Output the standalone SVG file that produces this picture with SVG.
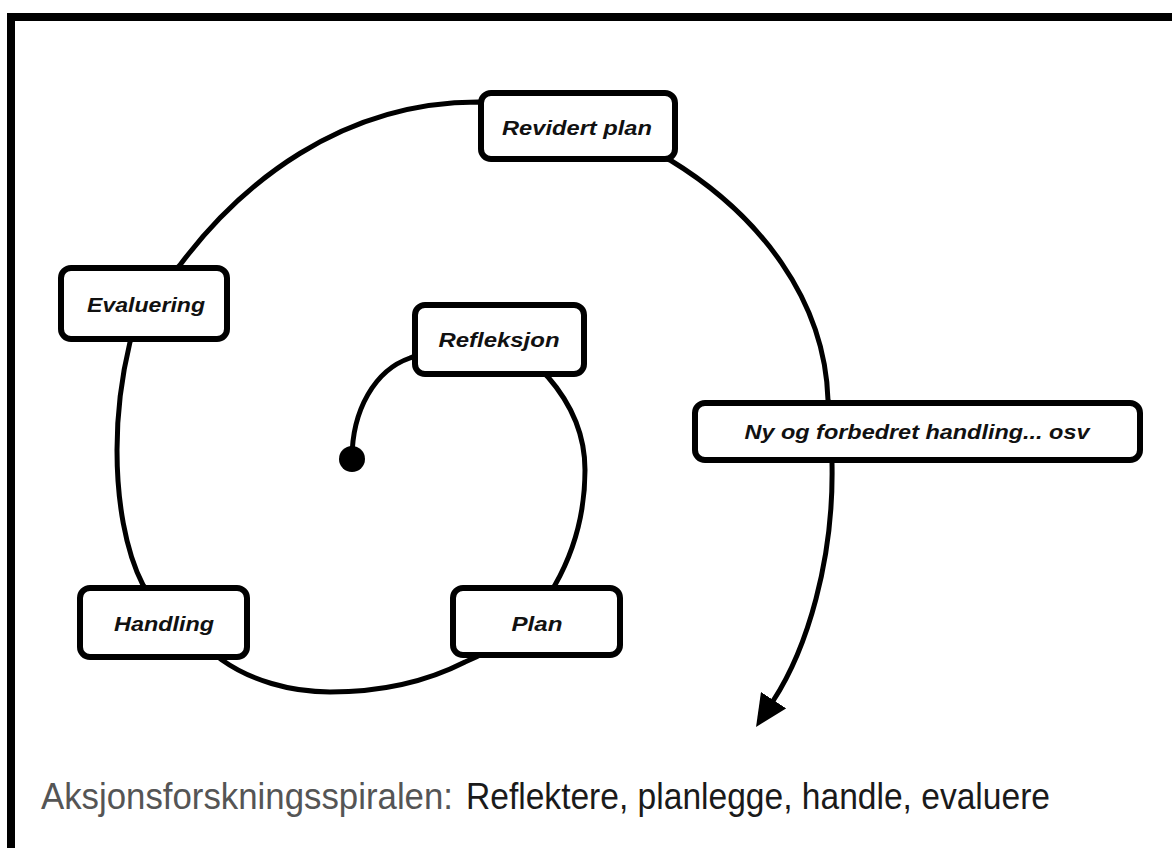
<svg xmlns="http://www.w3.org/2000/svg" width="1172" height="848" viewBox="0 0 1172 848">
  <style>
    .frame { fill: none; stroke: #000; stroke-width: 8; }
    .spiral { fill: none; stroke: #000; stroke-width: 5; stroke-linecap: round; stroke-linejoin: round; }
    .box { fill: #fff; stroke: #000; stroke-width: 6; }
    .lbl { font-family: "Liberation Sans", Arial, sans-serif; font-weight: bold; font-style: italic; font-size: 21px; fill: #111; text-anchor: middle; }
    .cap { font-family: "Liberation Sans", Arial, sans-serif; font-size: 37px; }
  </style>
  <defs>
    <marker id="arrow" markerUnits="userSpaceOnUse" markerWidth="32" markerHeight="30" viewBox="0 0 32 30" refX="1" refY="15" orient="auto">
      <path d="M0,0 L32,15 L0,30 z" fill="#000"/>
    </marker>
  </defs>
  <rect width="1172" height="848" fill="#fff"/>
  <path class="frame" d="M11,848 L11,17 L1172,17"/>

  <g id="connectors">
    <path class="spiral" marker-end="url(#arrow)" d="M352,459 C352,410 375,370 410,358 C450,340 520,345 548,377 C568,400 585,430 585,470 C585,515 572,555 555,585 C535,620 500,648 465,662 C420,685 370,692 330,692 C290,692 250,680 222,660 C190,635 160,610 143,585 C125,550 117,500 117,450 C117,410 122,375 130,342 C145,305 160,285 180,265 C240,185 340,102 478,102 L670,160 C760,215 825,300 828,400 L832,463 C834,560 807,649 773,701"/>
    <circle cx="352" cy="459" r="13" fill="#000"/>
  </g>

  <g id="node-revidert-plan">
    <rect class="box" x="481" y="93" width="194" height="66" rx="10"/>
    <text class="lbl" x="577" y="135" textLength="150" lengthAdjust="spacingAndGlyphs">Revidert plan</text>
  </g>
  <g id="node-evaluering">
    <rect class="box" x="61" y="268" width="166" height="71" rx="10"/>
    <text class="lbl" x="146" y="312" textLength="118" lengthAdjust="spacingAndGlyphs">Evaluering</text>
  </g>
  <g id="node-refleksjon">
    <rect class="box" x="415" y="305" width="169" height="69" rx="10"/>
    <text class="lbl" x="499" y="347" textLength="121" lengthAdjust="spacingAndGlyphs">Refleksjon</text>
  </g>
  <g id="node-ny-handling">
    <rect class="box" x="695" y="403" width="445" height="57" rx="10"/>
    <text class="lbl" x="917" y="439" textLength="345" lengthAdjust="spacingAndGlyphs">Ny og forbedret handling... osv</text>
  </g>
  <g id="node-handling">
    <rect class="box" x="80" y="588" width="167" height="69" rx="10"/>
    <text class="lbl" x="164" y="631" textLength="100" lengthAdjust="spacingAndGlyphs">Handling</text>
  </g>
  <g id="node-plan">
    <rect class="box" x="453" y="588" width="167" height="67" rx="10"/>
    <text class="lbl" x="537" y="631" textLength="51" lengthAdjust="spacingAndGlyphs">Plan</text>
  </g>

  <g id="caption">
    <text class="cap" x="41" y="809" fill="#555" textLength="412" lengthAdjust="spacingAndGlyphs">Aksjonsforskningsspiralen:</text>
    <text class="cap" x="466" y="809" fill="#1a1a1a" textLength="584" lengthAdjust="spacingAndGlyphs">Reflektere, planlegge, handle, evaluere</text>
  </g>
</svg>
